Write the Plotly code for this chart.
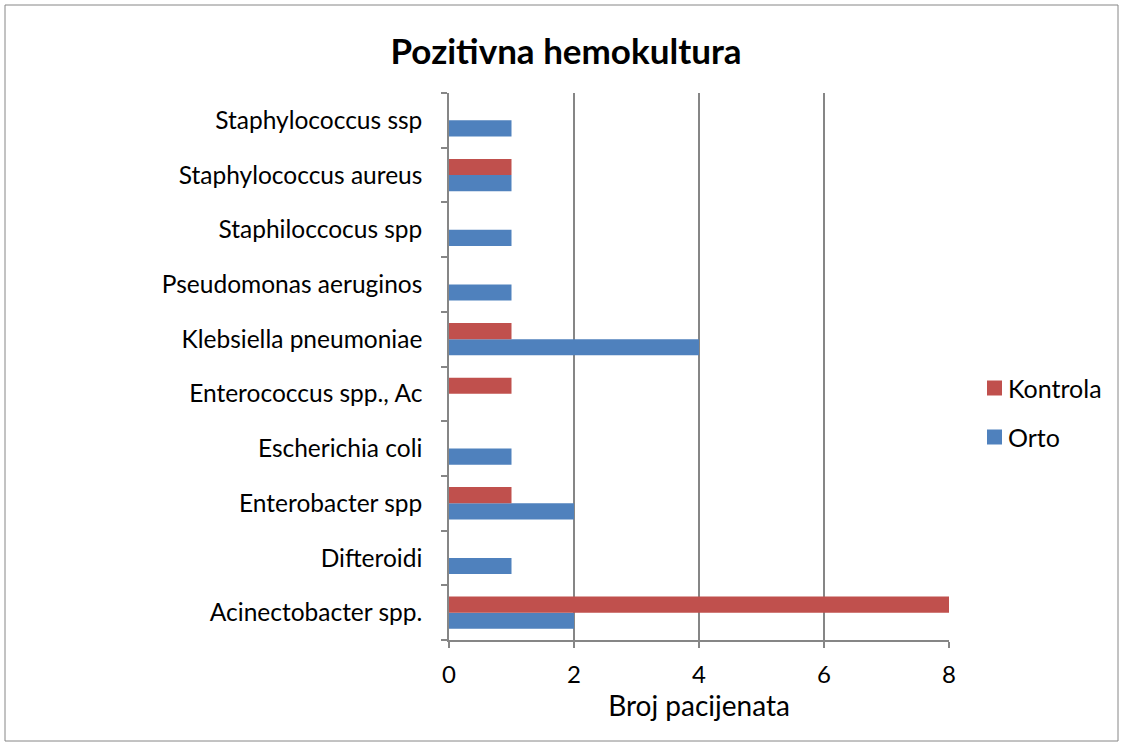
import plotly.graph_objects as go

categories = ["Acinectobacter spp.", "Difteroidi", "Enterobacter spp", "Escherichia coli",
              "Enterococcus spp., Ac", "Klebsiella pneumoniae", "Pseudomonas aeruginos",
              "Staphiloccocus spp", "Staphylococcus aureus", "Staphylococcus ssp"]
orto = [2, 1, 2, 1, 0, 4, 1, 1, 1, 1]
kontrola = [8, 0, 1, 0, 1, 1, 0, 0, 1, 0]
x_ticks = [0, 2, 4, 6, 8]

FONT = "Lato"
GRAY = "#868686"
BLUE, RED = "#4F81BD", "#C0504D"
FW, FH = 1124, 747

fig = go.Figure()
fig.add_trace(go.Bar(y=categories, x=orto, name="Orto", orientation="h",
                     marker=dict(color=BLUE, line=dict(width=0)), showlegend=False))
fig.add_trace(go.Bar(y=categories, x=kontrola, name="Kontrola", orientation="h",
                     marker=dict(color=RED, line=dict(width=0)), showlegend=False))

L, R, T, B = 449, FW - 949, 93, FH - 640
W, H = FW - L - R, FH - T - B


def px(x):
    return (x - L) / W


def py(y):
    return (FH - B - y) / H


fig.update_layout(
    width=FW, height=FH,
    margin=dict(l=L, r=R, t=T, b=B, autoexpand=False),
    paper_bgcolor="white", plot_bgcolor="white",
    barmode="group", bargap=0.41, bargroupgap=0,
    font=dict(family=FONT, size=24, color="black"),
    showlegend=False,
    title=dict(text="<b>Pozitivna hemokultura</b>", x=566 / FW, xanchor="center",
               y=1 - 52 / FH, yanchor="middle", font=dict(size=35, family=FONT)),
    xaxis=dict(range=[0, 8], tickvals=x_ticks, showgrid=True, gridcolor=GRAY, gridwidth=1.5,
               showline=True, linecolor=GRAY, linewidth=1.5, ticks="outside", ticklen=6,
               tickcolor=GRAY, tickwidth=1.5, zeroline=False, ticklabelstandoff=6,
               title=dict(text="Broj pacijenata", font=dict(size=28, family=FONT), standoff=4),
               tickfont=dict(size=24)),
    yaxis=dict(categoryorder="array", categoryarray=categories, showgrid=False,
               showline=True, linecolor=GRAY, linewidth=1.5, ticks="outside", ticklen=6,
               tickcolor=GRAY, tickwidth=1.5, tickson="boundaries", ticklabelstandoff=20,
               tickfont=dict(size=24.5)),
)

# outer chart border
fig.add_shape(type="rect", xref="paper", yref="paper",
              x0=px(5), x1=px(1118), y0=py(741), y1=py(5),
              line=dict(color=GRAY, width=1), fillcolor="rgba(0,0,0,0)", layer="below")

# legend (drawn manually to match marker size/spacing)
for name, color, yc in [(fig.data[1].name, RED, 388), (fig.data[0].name, BLUE, 437)]:
    fig.add_shape(type="rect", xref="paper", yref="paper",
                  x0=px(987), x1=px(1002), y0=py(yc + 7.5), y1=py(yc - 7.5),
                  line=dict(width=0), fillcolor=color)
    fig.add_annotation(xref="paper", yref="paper", x=px(1006), y=py(yc), text=name,
                       showarrow=False, xanchor="left", yanchor="middle",
                       font=dict(size=25, family=FONT, color="black"))

fig.write_html("out.html", config={"displayModeBar": False},
               post_script="document.body.style.margin='0';document.body.style.overflow='hidden';")
